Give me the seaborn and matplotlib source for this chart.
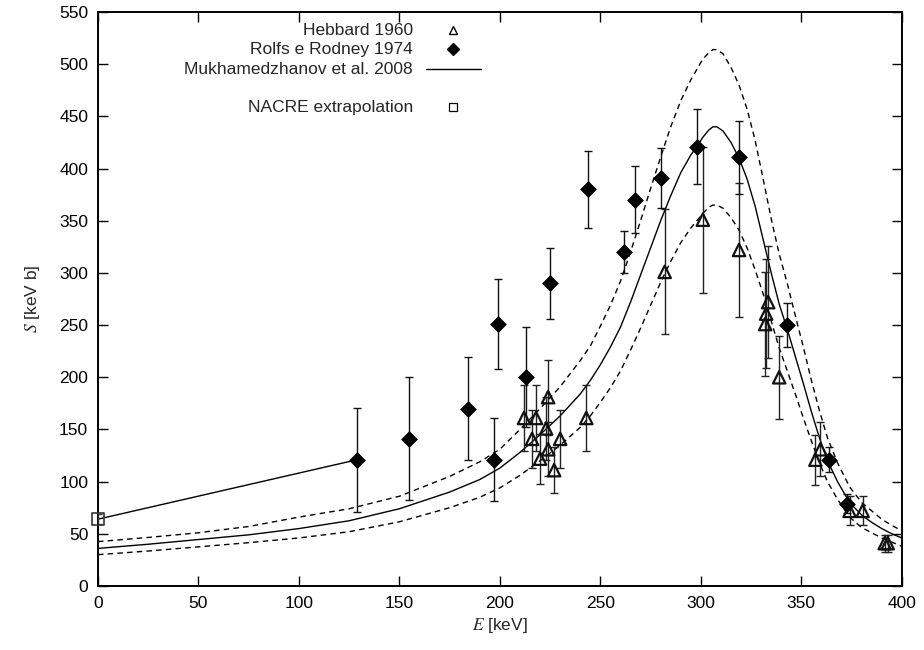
import numpy as np
import pandas as pd
import matplotlib
matplotlib.use("Agg")
import matplotlib.pyplot as plt
import seaborn as sns

# ---------------- data ----------------
hebbard_E = [212, 216, 218, 220, 223, 224, 224, 227, 230, 243, 282, 301, 319,
             332, 332.5, 333.5, 339, 357, 359.5, 374, 380.5, 391.5, 393]
hebbard_S = [161, 141, 161, 122, 151, 181, 131, 111, 141, 161, 301, 351, 322,
             251, 261, 272, 200, 121, 131, 72, 72, 41, 41]
hebbard_err = [32, 28, 32, 24, 30, 36, 26, 22, 28, 32, 60, 70, 64,
               50, 52, 54, 40, 24, 26, 14, 14, 8, 8]

rolfs_E = [129, 155, 184, 197, 199, 213, 225, 244, 262, 267, 280, 298, 319,
           343, 364, 372.5]
rolfs_S = [121, 141, 170, 121, 251, 200, 290, 380, 320, 370, 391, 421, 411,
           250, 121, 79]
rolfs_err = [50, 59, 49, 40, 43, 48, 34, 37, 20, 32, 29, 36, 35, 21, 12, 9]

nacre_E = [0]
nacre_S = [64]
nacre_err = [5]

# line joining the NACRE extrapolation to the first Rolfs point
link_E = [0, 129]
link_S = [64, 121]

# Mukhamedzhanov et al. 2008 (central) and its uncertainty band
curve_E = [0, 25, 50, 75, 100, 125, 150, 175, 190, 200, 210, 220, 230, 240,
           245, 250, 255, 260, 265, 270, 275, 280, 285, 290, 295, 298, 301,
           304, 306, 308, 311, 315, 319, 323, 327, 331, 335, 339, 343, 347,
           351, 355, 359, 363, 368, 374, 380, 385, 390, 395, 400]
curve_S = [36, 40, 44.5, 49, 55, 62.5, 74, 90, 102, 113, 128, 145, 163, 184,
           197, 212, 229, 248, 272, 298, 324, 350, 374, 396, 413, 421, 430,
           437, 440, 440, 436, 425, 410, 390, 364, 332, 300, 270, 246, 220,
           194, 167, 142, 120, 100, 80, 68, 61, 55, 50, 46]
upper_S = [42.5, 46.5, 51, 57, 66, 74, 86, 105, 119, 131, 150, 170, 191, 216,
           230, 249, 269, 292, 320, 350, 381, 411, 440, 465, 485, 495, 505,
           511, 514, 514, 510, 497, 480, 457, 427, 390, 352, 318, 290, 259,
           229, 197, 168, 142, 118, 95, 80, 72, 64, 58, 53]
lower_S = [30, 33.5, 37.5, 41.5, 46, 52, 61.5, 75, 85, 94, 106, 120, 135, 152,
           163, 176, 190, 206, 226, 247, 269, 291, 311, 329, 343, 350, 357,
           363, 365, 365, 362, 353, 341, 324, 303, 280, 254, 228, 206, 184,
           161, 139, 118, 100, 83, 66, 56, 51, 46, 42, 38]

x_ticks = [0, 50, 100, 150, 200, 250, 300, 350, 400]
y_ticks = [0, 50, 100, 150, 200, 250, 300, 350, 400, 450, 500, 550]

legend_labels = ["Hebbard 1960", "Rolfs e Rodney 1974",
                 "Mukhamedzhanov et al. 2008", "NACRE extrapolation"]

# ---------------- style ----------------
sns.set_style("ticks")
plt.rcParams["font.family"] = ["Liberation Sans", "DejaVu Sans"]
plt.rcParams["mathtext.fontset"] = "stix"
plt.rcParams["axes.linewidth"] = 1.4

fig = plt.figure(figsize=(9.24, 6.5), dpi=100)
ax = fig.add_axes([0.106, 0.0985, 0.870, 0.883])

curves = pd.DataFrame({"E": curve_E, "S": curve_S, "U": upper_S, "L": lower_S})

sns.lineplot(data=curves, x="E", y="S", ax=ax, color="black", lw=1.0,
             sort=False, estimator=None)
sns.lineplot(data=curves, x="E", y="U", ax=ax, color="black", lw=1.0,
             sort=False, estimator=None, linestyle=(0, (4, 3)))
sns.lineplot(data=curves, x="E", y="L", ax=ax, color="black", lw=1.0,
             sort=False, estimator=None, linestyle=(0, (4, 3)))
sns.lineplot(x=link_E, y=link_S, ax=ax, color="black", lw=1.0,
             sort=False, estimator=None)

# error bars
ax.errorbar(hebbard_E, hebbard_S, yerr=hebbard_err, fmt="none",
            ecolor="#222222", elinewidth=1.0, capsize=3, capthick=1.0, zorder=3)
ax.errorbar(rolfs_E, rolfs_S, yerr=rolfs_err, fmt="none",
            ecolor="#111111", elinewidth=1.0, capsize=3, capthick=1.0, zorder=3)
ax.errorbar(nacre_E, nacre_S, yerr=nacre_err, fmt="none",
            ecolor="#333333", elinewidth=1.0, capsize=3, capthick=1.0, zorder=3)

# markers
sns.scatterplot(x=hebbard_E, y=hebbard_S, ax=ax, marker="^", s=80,
                facecolors="none", edgecolor="#111111", linewidth=1.6, zorder=4)
sns.scatterplot(x=rolfs_E, y=rolfs_S, ax=ax, marker="D", s=65,
                color="black", edgecolor="black", linewidth=0.5, zorder=5)
sns.scatterplot(x=nacre_E, y=nacre_S, ax=ax, marker="s", s=70,
                facecolors="none", edgecolor="#333333", linewidth=1.2, zorder=5,
                clip_on=False)

# axes
ax.set_xlim(0, 400)
ax.set_ylim(0, 550)
ax.set_xticks(x_ticks)
ax.set_yticks(y_ticks)
ax.tick_params(direction="in", length=7, width=1.0, top=True, right=True,
               labelsize=12.5, pad=7, colors="black")
for sp in ax.spines.values():
    sp.set_visible(True)
    sp.set_color("black")
ax.set_xlabel("$E$ [keV]", fontsize=12.5, labelpad=4)
ax.set_ylabel("$S$ [keV b]", fontsize=12.5, labelpad=12)

# key (manual, right-aligned text as in the reference)
tx, mx = 0.392, 0.442
ys = [0.9686, 0.9350, 0.9007, 0.8345]
for lab, yy in zip(legend_labels, ys):
    ax.text(tx, yy, lab, transform=ax.transAxes, ha="right", va="center",
            fontsize=12.5)
ax.plot([mx], [ys[0]], transform=ax.transAxes, marker="^", ms=5.5,
        mfc="none", mec="black", mew=1.0, ls="none")
ax.plot([mx], [ys[1]], transform=ax.transAxes, marker="D", ms=6,
        color="black", ls="none")
ax.plot([0.408, 0.476], [ys[2], ys[2]], transform=ax.transAxes,
        color="black", lw=1.0)
ax.plot([mx], [ys[3]], transform=ax.transAxes, marker="s", ms=6,
        mfc="none", mec="black", mew=0.9, ls="none")

fig.savefig("out.png", dpi=100)
